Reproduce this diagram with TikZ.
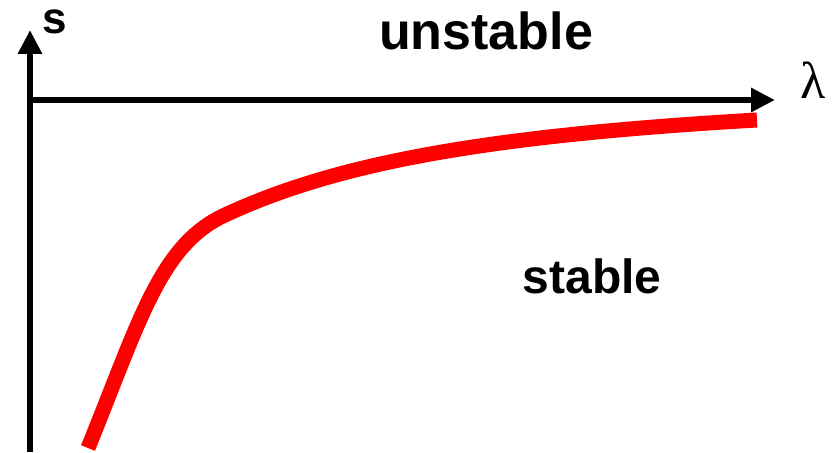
\documentclass[tikz,border=0pt]{standalone}
\usepackage{fontspec}
\setmainfont{Liberation Serif}
\setsansfont{Liberation Sans}
\usepackage{tikz}
\usetikzlibrary{arrows.meta}

\begin{document}
\begin{tikzpicture}[x=1pt,y=-1pt,>={Triangle[length=24pt,width=23pt]},
  axis/.style={line width=6pt,->},
  lbl/.style={font=\sffamily\bfseries\fontsize{52}{52}\selectfont,anchor=base,inner sep=0pt}]
 \useasboundingbox (0,0) rectangle (834,452);
 \coordinate (sbot) at (30,452);
 \coordinate (stop) at (30,30);
 \coordinate (lorig) at (30,100);
 \coordinate (lend) at (775,100);
 \draw[axis] (sbot)--(stop);
 \draw[axis] (lorig)--(lend);
 \node[font=\sffamily\bfseries\fontsize{44}{44}\selectfont,anchor=base,inner sep=0pt] (slab) at (55,34) {s};
 \node[font=\fontsize{52}{52}\selectfont,anchor=base,inner sep=0pt] (llab) at (813,98) {λ};
 \node[lbl] (unst) at (486,49) {unstable};
 \node[lbl,font=\sffamily\bfseries\fontsize{48}{48}\selectfont] (st) at (592,293) {stable};
 % growth rate curve
 \draw[red,line width=15pt] (88,448) .. controls (140,320) and (160,245) .. (225,215)
  .. controls (335,164) and (480,136) .. (757,120);
\end{tikzpicture}
\end{document}
